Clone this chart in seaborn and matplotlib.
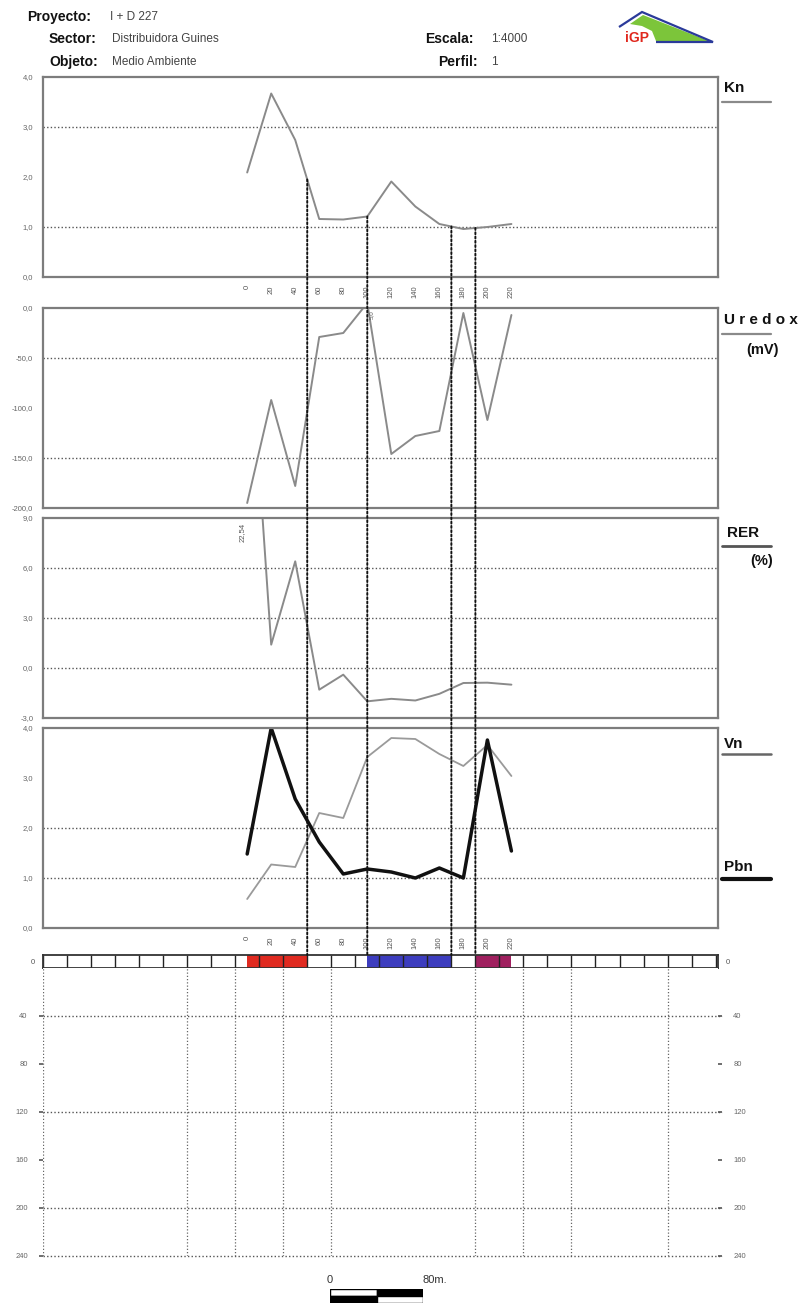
import numpy as np
import pandas as pd
import matplotlib
matplotlib.use("Agg")
import matplotlib.pyplot as plt
from matplotlib.lines import Line2D
from matplotlib.patches import ConnectionPatch, Polygon
import seaborn as sns

# ---- profile data -------------------------------------------------------
stations = [0, 20, 40, 60, 80, 100, 120, 140, 160, 180, 200, 220]   # m along profile
profile_start = 170                                               # offset of station 0 in the section (m)
section_length = 562                                              # m shown across the panels

kn = [2.09, 3.67, 2.74, 1.16, 1.15, 1.21, 1.91, 1.41, 1.06, 0.96, 1.00, 1.06]
uredox = [-195, -92, -178, -29, -25, 5.0, -146, -128, -123, -5, -112, -7]
rer = [22.54, 1.4, 6.4, -1.3, -0.4, -2.0, -1.85, -1.95, -1.55, -0.9, -0.88, -1.0]
vn = [0.58, 1.27, 1.22, 2.30, 2.20, 3.42, 3.80, 3.78, 3.48, 3.24, 3.66, 3.04]
pbn = [1.48, 4.00, 2.58, 1.72, 1.08, 1.18, 1.12, 1.00, 1.20, 1.00, 3.76, 1.54]

anomaly_at = [50, 100, 170, 190]                  # stations marked through all panels
zone_start = [0, 100, 190]
zone_end = [50, 170, 220]
zone_color = ["#e02a20", "#3d3dbf", "#a0205f"]

depth_ticks = [40, 80, 120, 160, 200, 240]
depth_grid_h = [40, 120, 200, 240]
depth_grid_v = [0, 120, 160, 200, 240, 360, 400, 440, 520]

scale_len = [40, 40]

df = pd.DataFrame({"x": np.array(stations) + profile_start, "station": stations,
                   "Kn": kn, "Uredox": uredox, "RER": rer, "Vn": vn, "Pbn": pbn})

# ---- figure ---------------------------------------------------------------
sns.set_style("white")
plt.rcParams["font.family"] = ["Liberation Sans", "DejaVu Sans"]

W, H = 805, 1306
fig = plt.figure(figsize=(W / 100, H / 100), dpi=100)


def px_axes(x0, y0, x1, y1):
    return fig.add_axes([x0 / W, 1 - y1 / H, (x1 - x0) / W, (y1 - y0) / H])


def fx(x):
    return x / W


def fy(y):
    return 1 - y / H


def comma(v, nd=1):
    return f"{v:.{nd}f}".replace(".", ",")


GRID_LS = (0, (1, 1.6))
x_grid = np.arange(10, 551, 10)


def setup_panel(ax, ylim, yticks, grid_vals, label_stations=False):
    ax.set_xlim(0, section_length)
    ax.set_ylim(*ylim)
    for s in ax.spines.values():
        s.set_color("#7d7d7d")
        s.set_linewidth(1.6)
    ax.set_yticks(yticks)
    ax.set_yticklabels([comma(v) for v in yticks], fontsize=5.5, color="#666")
    ax.tick_params(axis="y", direction="out", length=4, width=1.2, color="#666", pad=3)
    ax.set_xticks(x_grid)
    if label_stations:
        lab = {profile_start + s: str(s) for s in stations}
        ax.set_xticklabels([lab.get(int(t), "") for t in x_grid])
    else:
        ax.set_xticklabels([])
    ax.tick_params(axis="x", direction="out", length=4, width=1.2, color="#666",
                   labelsize=5.5, labelrotation=90, labelcolor="#555", pad=2)
    for g in grid_vals:
        ax.axhline(g, color="#555", lw=1.0, ls=GRID_LS, zorder=1)


def finish(ax):
    ax.set_xlabel("")
    ax.set_ylabel("")


# Kn
ax_kn = px_axes(43, 77, 718, 277)
setup_panel(ax_kn, (0, 4), [0, 1, 2, 3, 4], [1, 3], label_stations=True)
sns.lineplot(data=df, x="x", y="Kn", ax=ax_kn, color="#8a8a8a", lw=1.4, sort=False)
finish(ax_kn)

# Uredox
ax_ur = px_axes(43, 308, 718, 508)
setup_panel(ax_ur, (-200, 0), [-200, -150, -100, -50, 0], [-50, -150])
sns.lineplot(data=df, x="x", y="Uredox", ax=ax_ur, color="#8a8a8a", lw=1.4, sort=False)
finish(ax_ur)
ax_ur.text(profile_start + 101, -2, comma(uredox[5]), rotation=90, fontsize=4.5,
           color="#555", ha="left", va="top")

# RER
ax_rer = px_axes(43, 518, 718, 718)
setup_panel(ax_rer, (-3, 9), [-3, 0, 3, 6, 9], [0, 3, 6])
sns.lineplot(data=df, x="x", y="RER", ax=ax_rer, color="#8a8a8a", lw=1.4, sort=False)
finish(ax_rer)
ax_rer.text(profile_start - 1, 8.7, comma(rer[0], 2), rotation=90, fontsize=5.5,
            color="#555", ha="right", va="top")

# Vn / Pbn
ax_vn = px_axes(43, 728, 718, 928)
setup_panel(ax_vn, (0, 4), [0, 1, 2, 3, 4], [1, 2], label_stations=True)
sns.lineplot(data=df, x="x", y="Vn", ax=ax_vn, color="#9a9a9a", lw=1.3, sort=False)
sns.lineplot(data=df, x="x", y="Pbn", ax=ax_vn, color="#111111", lw=2.5, sort=False)
finish(ax_vn)

# Zone bar
ax_bar = px_axes(43, 955, 718, 968)
ax_bar.set_xlim(0, section_length)
ax_bar.set_ylim(0, 1)
for a, b, c in zip(zone_start, zone_end, zone_color):
    ax_bar.axvspan(a + profile_start, b + profile_start, color=c, lw=0)
ax_bar.vlines(np.arange(0, 561, 20), 0, 1, color="#222", lw=1.0)
for s in ax_bar.spines.values():
    s.set_color("#333")
    s.set_linewidth(1.3)
ax_bar.set_xticks([])
ax_bar.set_yticks([])
fig.text(fx(33), fy(962), "0", fontsize=5.5, color="#555", ha="center", va="center")
fig.text(fx(728), fy(962), "0", fontsize=5.5, color="#555", ha="center", va="center")

# Depth section grid
ax_dep = px_axes(43, 968, 718, 1256)
ax_dep.set_xlim(0, section_length)
ax_dep.set_ylim(240, 0)
for s in ax_dep.spines.values():
    s.set_visible(False)
for g in depth_grid_h:
    ax_dep.axhline(g, color="#555", lw=1.0, ls=GRID_LS, xmax=1.006, clip_on=False)
for g in depth_grid_v:
    ax_dep.axvline(g, color="#666", lw=0.9, ls=GRID_LS)
ax_dep.set_xticks([])
ax_dep.set_yticks(depth_ticks)
ax_dep.set_yticklabels([str(v) for v in depth_ticks], fontsize=5.5, color="#666")
ax_dep.tick_params(axis="y", left=True, right=True, labelleft=True, labelright=True,
                   direction="out", length=3, width=1.2, color="#555", pad=8)

# Anomaly markers running from the Kn curve down to the zone bar
for s in anomaly_at:
    xa = s + profile_start
    ya = float(np.interp(xa, df["x"], df["Kn"]))
    con = ConnectionPatch(xyA=(xa, ya), coordsA=ax_kn.transData,
                          xyB=(xa, 1.0), coordsB=ax_bar.transData,
                          color="#111", lw=1.4, ls=(0, (1, 1.2)), zorder=10)
    fig.add_artist(con)


# Series names at the right
def legend_label(y_text, text, y_line, color, lw, sub=None, y_sub=None, x_text=724):
    fig.text(fx(x_text), fy(y_text), text, fontsize=11, fontweight="bold",
             color="#111", ha="left", va="center")
    fig.add_artist(Line2D([fx(722), fx(771)], [fy(y_line), fy(y_line)], color=color, lw=lw))
    if sub:
        fig.text(fx(762), fy(y_sub), sub, fontsize=10.5, fontweight="bold",
                 color="#111", ha="center", va="center")


legend_label(88, "Kn", 102, "#8a8a8a", 1.6)
legend_label(320, "U r e d o x", 334, "#8a8a8a", 1.6, "(mV)", 350)
legend_label(533, "RER", 546, "#555", 2.0, "(%)", 561, x_text=727)
legend_label(744, "Vn", 754, "#666", 1.8)
legend_label(867, "Pbn", 879, "#111", 3.0)


# Header
def header(x, y, key, val, xv):
    fig.text(fx(x), fy(y), key, fontsize=10, fontweight="bold", color="#111", va="center")
    fig.text(fx(xv), fy(y), val, fontsize=8.5, color="#444", va="center")


header(27, 17, "Proyecto:", "I + D 227", 110)
header(49, 39, "Sector:", "Distribuidora Guines", 112)
header(49, 62, "Objeto:", "Medio Ambiente", 112)
header(425, 39, "Escala:", "1:4000", 491)
header(438, 62, "Perfil:", "1", 491)

# Logo
ax_logo = px_axes(612, 8, 716, 50)
ax_logo.set_xlim(612, 716)
ax_logo.set_ylim(50, 8)
ax_logo.axis("off")
ax_logo.add_patch(Polygon([[630, 24], [643, 15], [709, 41], [656, 41], [652, 31], [642, 26]],
                          closed=True, fc="#7cc53a", ec="none"))
ax_logo.add_patch(Polygon([[619, 27], [642, 12], [713, 42], [656, 42]],
                          closed=False, fill=False, ec="#2a3a9a", lw=1.6))
ax_logo.text(637, 38, "iGP", color="#e0281e", fontsize=10, fontweight="bold",
             ha="center", va="center")

# Scale bar
ax_sc = px_axes(330, 1289, 423, 1303)
ax_sc.set_xlim(0, sum(scale_len))
ax_sc.set_ylim(0, 2)
ax_sc.barh([1.5, 1.5], scale_len, left=[0, scale_len[0]], height=1,
           color=["white", "black"], edgecolor="black", lw=1)
ax_sc.barh([0.5, 0.5], scale_len, left=[0, scale_len[0]], height=1,
           color=["black", "white"], edgecolor="black", lw=1)
ax_sc.axis("off")
fig.text(fx(330), fy(1280), "0", fontsize=8, color="#333", ha="center", va="center")
fig.text(fx(422), fy(1280), "80m.", fontsize=8, color="#333", ha="left", va="center")

fig.savefig("out.png", dpi=100)
